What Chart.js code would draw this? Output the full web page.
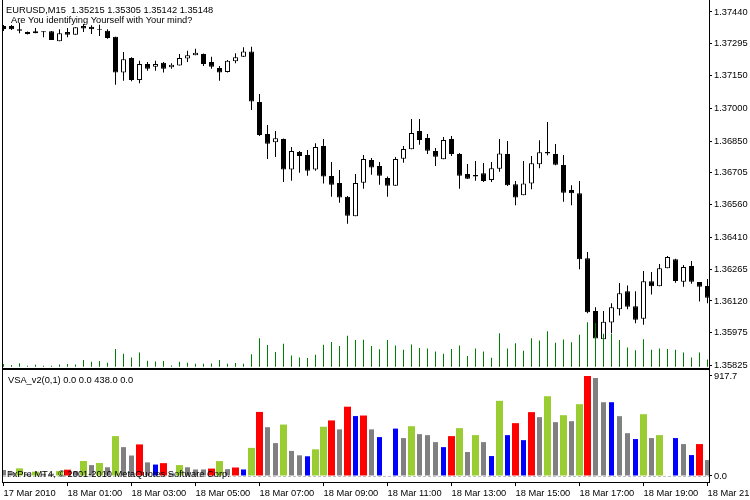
<!DOCTYPE html>
<html>
<head>
<meta charset="utf-8">
<script src="https://cdn.jsdelivr.net/npm/chart.js@4.4.1/dist/chart.umd.min.js"></script>
<style>
  html, body { margin: 0; padding: 0; background: #fff; }
  #wrap { position: relative; width: 750px; height: 500px; overflow: hidden; }
  canvas { position: absolute; left: 0; }
  #priceChart { top: 0; }
  #vsaChart { top: 369px; }
</style>
</head>
<body>
<div id="wrap">
  <canvas id="priceChart" width="750" height="369"></canvas>
  <canvas id="vsaChart" width="750" height="131"></canvas>
</div>
<script>
// EURUSD M15, 17 Mar 23:00 .. 18 Mar 21:00 (89 bars)
const opens = [
  1.37376, 1.37376, 1.37361, 1.37349, 1.37343, 1.37352, 1.37352, 1.37306, 1.37349, 1.37336,
  1.37376, 1.37373, 1.37358, 1.37354, 1.37327, 1.37163, 1.37230, 1.37129, 1.37202, 1.37190,
  1.37208, 1.37187, 1.37196, 1.37227, 1.37242, 1.37248, 1.37211, 1.37184, 1.37166, 1.37215,
  1.37236, 1.37260, 1.37029, 1.36883, 1.36845, 1.36860, 1.36721, 1.36800, 1.36787, 1.36721,
  1.36828, 1.36691, 1.36659, 1.36596, 1.36507, 1.36660, 1.36764, 1.36736, 1.36682, 1.36646,
  1.36770, 1.36813, 1.36896, 1.36864, 1.36805, 1.36767, 1.36860, 1.36791, 1.36700, 1.36695,
  1.36703, 1.36672, 1.36724, 1.36791, 1.36653, 1.36603, 1.36657, 1.36744, 1.36800, 1.36791,
  1.36741, 1.36627, 1.36612, 1.36315, 1.36074, 1.35945, 1.36022, 1.36082, 1.36164, 1.36096,
  1.36039, 1.36210, 1.36187, 1.36269, 1.36310, 1.36208, 1.36280, 1.36207, 1.36188
];
const highs = [
  1.37381, 1.37381, 1.37391, 1.37351, 1.37367, 1.37352, 1.37353, 1.37361, 1.37367, 1.37370,
  1.37385, 1.37379, 1.37382, 1.37361, 1.37327, 1.37257, 1.37233, 1.37217, 1.37211, 1.37217,
  1.37211, 1.37206, 1.37248, 1.37263, 1.37272, 1.37250, 1.37236, 1.37193, 1.37221, 1.37251,
  1.37279, 1.37281, 1.37065, 1.36924, 1.36896, 1.36862, 1.36823, 1.36805, 1.36810, 1.36840,
  1.36860, 1.36755, 1.36718, 1.36599, 1.36700, 1.36787, 1.36773, 1.36755, 1.36688, 1.36778,
  1.36828, 1.36951, 1.36951, 1.36883, 1.36819, 1.36869, 1.36873, 1.36796, 1.36746, 1.36759,
  1.36750, 1.36755, 1.36860, 1.36851, 1.36668, 1.36759, 1.36782, 1.36854, 1.36937, 1.36837,
  1.36787, 1.36648, 1.36668, 1.36344, 1.36091, 1.36074, 1.36109, 1.36202, 1.36191, 1.36164,
  1.36257, 1.36252, 1.36289, 1.36325, 1.36313, 1.36284, 1.36302, 1.36207, 1.36220
];
const lows = [
  1.37353, 1.37358, 1.37343, 1.37337, 1.37343, 1.37324, 1.37312, 1.37306, 1.37324, 1.37336,
  1.37349, 1.37339, 1.37330, 1.37318, 1.37108, 1.37126, 1.37123, 1.37114, 1.37172, 1.37172,
  1.37163, 1.37181, 1.37196, 1.37211, 1.37242, 1.37193, 1.37181, 1.37126, 1.37164, 1.37206,
  1.37234, 1.36992, 1.36873, 1.36768, 1.36778, 1.36663, 1.36669, 1.36706, 1.36692, 1.36715,
  1.36656, 1.36596, 1.36569, 1.36473, 1.36507, 1.36633, 1.36697, 1.36651, 1.36596, 1.36646,
  1.36751, 1.36813, 1.36834, 1.36791, 1.36736, 1.36767, 1.36782, 1.36633, 1.36677, 1.36669,
  1.36663, 1.36663, 1.36710, 1.36645, 1.36557, 1.36603, 1.36630, 1.36726, 1.36785, 1.36740,
  1.36573, 1.36557, 1.36265, 1.36064, 1.35948, 1.35945, 1.35972, 1.36054, 1.36082, 1.36018,
  1.36011, 1.36149, 1.36187, 1.36269, 1.36203, 1.36185, 1.36199, 1.36117, 1.36109
];
const closes = [
  1.37362, 1.37361, 1.37354, 1.37339, 1.37352, 1.37347, 1.37312, 1.37343, 1.37336, 1.37370,
  1.37364, 1.37361, 1.37361, 1.37321, 1.37163, 1.37224, 1.37129, 1.37202, 1.37181, 1.37202,
  1.37181, 1.37199, 1.37230, 1.37242, 1.37254, 1.37202, 1.37190, 1.37163, 1.37217, 1.37233,
  1.37260, 1.37031, 1.36878, 1.36838, 1.36863, 1.36721, 1.36805, 1.36782, 1.36715, 1.36823,
  1.36688, 1.36651, 1.36592, 1.36509, 1.36659, 1.36768, 1.36730, 1.36692, 1.36646, 1.36768,
  1.36814, 1.36887, 1.36855, 1.36806, 1.36779, 1.36855, 1.36791, 1.36692, 1.36678, 1.36688,
  1.36668, 1.36726, 1.36794, 1.36648, 1.36593, 1.36657, 1.36749, 1.36799, 1.36794, 1.36742,
  1.36614, 1.36612, 1.36310, 1.36068, 1.35948, 1.36025, 1.36091, 1.36155, 1.36094, 1.36034,
  1.36210, 1.36187, 1.36269, 1.36321, 1.36211, 1.36275, 1.36208, 1.36185, 1.36135
];
const volumes = [
  55, 35, 70, 21, 40, 21, 21, 45, 58, 45,
  138, 100, 119, 80, 366, 265, 188, 290, 125, 105,
  118, 25, 100, 80, 60, 60, 68, 137, 63, 78,
  60, 258, 588, 448, 302, 472, 230, 190, 181, 245,
  452, 510, 428, 636, 550, 555, 428, 357, 550, 435,
  348, 457, 384, 375, 311, 265, 366, 439, 220, 375,
  311, 183, 690, 375, 485, 329, 586, 540, 732, 494,
  558, 503, 659, 917.7, 899, 677, 677, 549, 393, 339,
  567, 348, 375, 365, 348, 293, 192, 293, 146
];
const vsaColors = [
  'gray', 'gray', 'green', 'gray', 'green', 'gray', 'gray', 'green', 'red', 'gray',
  'green', 'gray', 'green', 'gray', 'green', 'gray', 'gray', 'red', 'gray', 'blue',
  'red', 'gray', 'green', 'gray', 'gray', 'gray', 'red', 'green', 'gray', 'red',
  'blue', 'green', 'red', 'gray', 'gray', 'green', 'gray', 'gray', 'blue', 'green',
  'green', 'red', 'gray', 'red', 'blue', 'red', 'gray', 'blue', 'none', 'blue',
  'gray', 'green', 'gray', 'gray', 'gray', 'blue', 'red', 'green', 'gray', 'green',
  'gray', 'blue', 'green', 'blue', 'red', 'blue', 'red', 'gray', 'green', 'gray',
  'green', 'gray', 'green', 'red', 'gray', 'gray', 'blue', 'gray', 'gray', 'blue',
  'green', 'gray', 'green', 'none', 'blue', 'gray', 'blue', 'red', 'gray'
];
const priceTicks = [1.37440, 1.37295, 1.37150, 1.37000, 1.36850, 1.36705, 1.36560, 1.36410, 1.36265, 1.36120, 1.35975, 1.35825];
const vsaTicks = [0, 917.7];
const timeTicks = [0, 8, 16, 24, 32, 40, 48, 56, 64, 72, 80, 88];
const timeLabels = ['17 Mar 2010', '18 Mar 01:00', '18 Mar 03:00', '18 Mar 05:00', '18 Mar 07:00', '18 Mar 09:00',
  '18 Mar 11:00', '18 Mar 13:00', '18 Mar 15:00', '18 Mar 17:00', '18 Mar 19:00', '18 Mar 21:00'];

const FONT = { family: 'Liberation Sans, Arial, sans-serif', size: 9.3 };
const X_MIN = -0.0625, X_MAX = 88.1875;

const vsaPalette = { red: '#ff0000', green: '#9acd32', gray: '#808080', blue: '#0000ff' };
const vsaWidth = { red: 7, green: 7, gray: 5, blue: 5 };

const fixAxis = (w) => (s) => {
  if (w) s.width = w;
  s.paddingTop = 0; s.paddingBottom = 0; s.paddingLeft = 0; s.paddingRight = 0;
};

const priceFrame = {
  id: 'priceFrame',
  afterDraw(chart) {
    const ctx = chart.ctx;
    ctx.save();
    ctx.fillStyle = '#000';
    ctx.fillRect(2, 0, 1, 369);
    ctx.fillRect(709, 0, 1, 369);
    ctx.fillRect(2, 368, 708, 1);
    ctx.font = '9.3px "Liberation Sans", Arial, sans-serif';
    ctx.textBaseline = 'alphabetic';
    ctx.fillText('EURUSD,M15  1.35215 1.35305 1.35142 1.35148', 6, 13);
    ctx.fillText('Are You identifying Yourself with Your mind?', 11, 23);
    ctx.restore();
  }
};

const vsaFrame = {
  id: 'vsaFrame',
  beforeDatasetsDraw(chart) {
    const ctx = chart.ctx;
    const y0 = Math.round(chart.scales.y.getPixelForValue(0)) + 0.5;
    ctx.save();
    ctx.strokeStyle = '#c0c0c0';
    ctx.lineWidth = 1;
    ctx.setLineDash([3, 2]);
    ctx.beginPath();
    ctx.moveTo(3, y0);
    ctx.lineTo(709, y0);
    ctx.stroke();
    ctx.restore();
  },
  afterDraw(chart) {
    const ctx = chart.ctx;
    ctx.save();
    ctx.fillStyle = '#000';
    ctx.fillRect(2, 0, 1, 114);
    ctx.fillRect(709, 0, 1, 114);
    ctx.fillRect(2, 0, 708, 1);
    ctx.fillRect(2, 113, 708, 1);
    ctx.font = '9.3px "Liberation Sans", Arial, sans-serif';
    ctx.fillText('VSA_v2(0,1) 0.0 0.0 438.0 0.0', 8, 14);
    ctx.fillText('FxPro MT4, \u00a9 2001-2010 MetaQuotes Software Corp.', 7, 108);
    ctx.restore();
  }
};

const idx = closes.map((c, i) => i);

new Chart(document.getElementById('priceChart'), {
  type: 'bar',
  data: {
    datasets: [
      {
        data: volumes.map((v, i) => ({ x: i, y: v })),
        yAxisID: 'yv',
        backgroundColor: '#008000',
        inflateAmount: 0,
        grouped: false, categoryPercentage: 1, barPercentage: 1 / 8
      },
      {
        data: idx.map(i => ({ x: i, y: [opens[i], closes[i]] })),
        yAxisID: 'y',
        backgroundColor: idx.map(i => closes[i] < opens[i] ? '#000000' : '#ffffff'),
        borderColor: '#000000',
        borderWidth: 1,
        borderSkipped: false,
        inflateAmount: 0,
        grouped: false, categoryPercentage: 1, barPercentage: 5 / 8
      },
      {
        data: idx.map(i => ({ x: i, y: [lows[i], highs[i]] })),
        yAxisID: 'y',
        backgroundColor: '#000000',
        inflateAmount: 0,
        grouped: false, categoryPercentage: 1, barPercentage: 1 / 8
      }
    ]
  },
  options: {
    responsive: false,
    maintainAspectRatio: false,
    devicePixelRatio: 1,
    animation: false,
    layout: { padding: { left: 3, right: 0, top: 0, bottom: 1 } },
    plugins: { legend: { display: false }, tooltip: { enabled: false } },
    scales: {
      x: { type: 'linear', min: X_MIN, max: X_MAX, offset: false, grid: { offset: false }, display: false },
      y: {
        position: 'right',
        min: 1.358137, max: 1.374947,
        afterBuildTicks: s => { s.ticks = priceTicks.map(v => ({ value: v })); },
        afterFit: fixAxis(41),
        grid: { drawOnChartArea: false, drawTicks: true, tickLength: 3, tickColor: '#000' },
        border: { display: false },
        ticks: { padding: 2, color: '#000', font: FONT, callback: v => v.toFixed(5) }
      },
      yv: { position: 'left', display: false, min: -26.8, max: 7554 }
    }
  },
  plugins: [priceFrame]
});

const vsaDatasets = ['red', 'green', 'gray', 'blue'].map(c => ({
  data: idx.filter(i => vsaColors[i] === c).map(i => ({ x: i, y: volumes[i] })),
  backgroundColor: vsaPalette[c],
  inflateAmount: 0,
  grouped: false, categoryPercentage: 1, barPercentage: vsaWidth[c] / 8
}));

new Chart(document.getElementById('vsaChart'), {
  type: 'bar',
  data: { datasets: vsaDatasets },
  options: {
    responsive: false,
    maintainAspectRatio: false,
    devicePixelRatio: 1,
    animation: false,
    layout: { padding: { left: 3, right: 0, top: 0, bottom: 0 } },
    plugins: { legend: { display: false }, tooltip: { enabled: false } },
    scales: {
      x: {
        type: 'linear', min: X_MIN, max: X_MAX, offset: false,
        afterBuildTicks: s => { s.ticks = timeTicks.map(v => ({ value: v })); },
        afterFit: s => { s.height = 18; s.paddingLeft = 0; s.paddingRight = 0; },
        grid: { offset: false, drawOnChartArea: false, drawTicks: true, tickLength: 4, tickColor: '#000' },
        border: { display: false },
        ticks: {
          padding: 2, color: '#000', font: FONT, align: 'start',
          autoSkip: false, maxRotation: 0, minRotation: 0,
          callback: v => timeLabels[timeTicks.indexOf(v)]
        }
      },
      y: {
        position: 'right',
        min: -55.06, max: 981.9,
        afterBuildTicks: s => { s.ticks = vsaTicks.map(v => ({ value: v })); },
        afterFit: fixAxis(41),
        grid: { drawOnChartArea: false, drawTicks: true, tickLength: 3, tickColor: '#000' },
        border: { display: false },
        ticks: { padding: 2, color: '#000', font: FONT, callback: v => v.toFixed(1) }
      }
    }
  },
  plugins: [vsaFrame]
});
</script>
</body>
</html>
